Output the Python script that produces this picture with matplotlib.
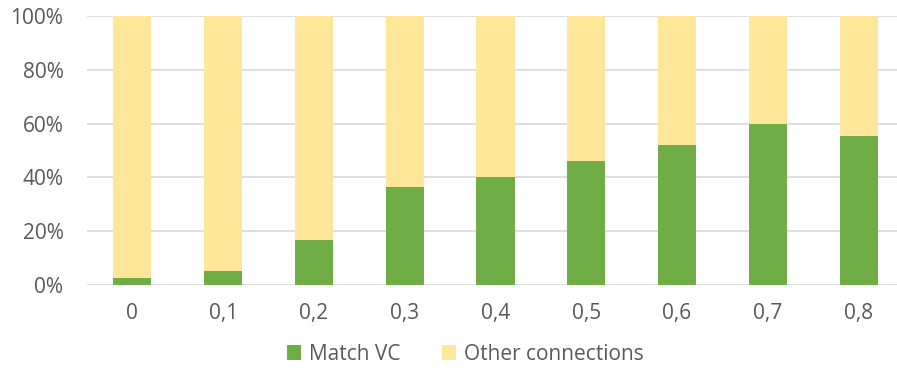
import matplotlib
matplotlib.use('Agg')
import matplotlib.pyplot as plt
from matplotlib.ticker import FuncFormatter

categories = ['0', '0,1', '0,2', '0,3', '0,4', '0,5', '0,6', '0,7', '0,8']
match_vc = [2.7, 5.2, 16.7, 36.6, 40.3, 46.2, 51.9, 60.0, 55.5]
other = [100 - v for v in match_vc]

GREEN = '#70AD47'
YELLOW = '#FFE699'
TXT = '#595959'

plt.rcParams['font.family'] = ['Open Sans', 'DejaVu Sans']

W, H = 897, 377
fig = plt.figure(figsize=(W / 100, H / 100), dpi=100)
fig.patch.set_facecolor('white')
# axes in pixel coords: x 87..904, y 16..285 (top-down)
ax = fig.add_axes([87 / W, (H - 285) / H, (904 - 87) / W, (285 - 16) / H])

x = list(range(len(categories)))
ax.bar(x, match_vc, width=0.42, color=GREEN, label='Match VC', zorder=2)
ax.bar(x, other, width=0.42, bottom=match_vc, color=YELLOW,
       label='Other connections', zorder=2)

ax.set_xlim(-0.5, 8.5)
ax.set_ylim(0, 100)
ax.set_yticks(range(0, 101, 20))
ax.yaxis.set_major_formatter(FuncFormatter(lambda v, p: f'{int(v)}%'))
ax.set_xticks(x)
ax.set_xticklabels(categories)
ax.grid(axis='y', color='#D9D9D9', lw=1.2, zorder=0)
ax.set_axisbelow(True)
for s in ax.spines.values():
    s.set_visible(False)
ax.tick_params(axis='both', length=0, labelsize=15, colors=TXT)
ax.tick_params(axis='y', pad=17)
ax.tick_params(axis='x', pad=13)

fig.legend(loc='center', bbox_to_anchor=(465 / W, (H - 354) / H), ncol=2,
           frameon=False, fontsize=15, labelcolor=TXT, handlelength=0.7,
           handleheight=0.7, handletextpad=0.35, columnspacing=2.0)

fig.savefig('out.png', dpi=100, facecolor='white')
